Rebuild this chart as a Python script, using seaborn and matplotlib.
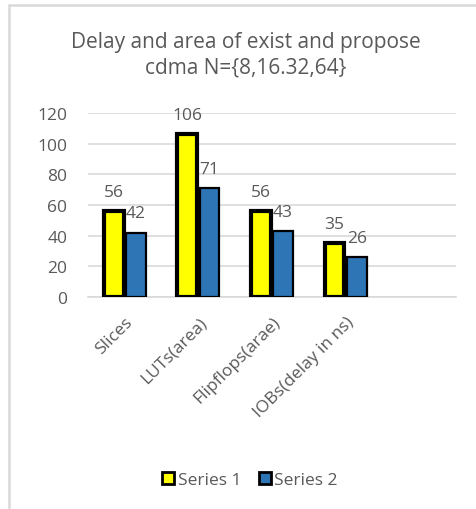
import matplotlib
matplotlib.use("Agg")
import matplotlib.pyplot as plt
import seaborn as sns
import pandas as pd
from matplotlib.patches import Patch
from matplotlib.lines import Line2D

categories = ["Slices", "LUTs(area)", "Flipflops(arae)", "IOBs(delay in ns)"]
order = categories + [""]
series1 = [56, 106, 56, 35]
series2 = [42, 71, 43, 26]
series_names = ["Series 1", "Series 2"]
yticks = [0, 20, 40, 60, 80, 100, 120]
title = "Delay and area of exist and propose\ncdma N={8,16.32,64}"

colors = {"Series 1": "#FFFF00", "Series 2": "#2E75B6"}
text_color = "#595959"
grid_color = "#D9D9D9"

df = pd.DataFrame({
    "category": categories * 2,
    "series": [series_names[0]] * len(categories) + [series_names[1]] * len(categories),
    "value": series1 + series2,
})

sns.set_theme(style="white")
plt.rcParams["font.family"] = ["Open Sans", "DejaVu Sans"]

fs = 12.5

fig = plt.figure(figsize=(4.77, 5.10), dpi=100)
ax = fig.add_axes([88 / 477, 1 - 298 / 510, (456 - 88) / 477, (298 - 114) / 510])

sns.barplot(data=df, x="category", y="value", hue="series", order=order,
            hue_order=series_names, palette=colors, saturation=1, width=0.6, gap=0.1,
            ax=ax, legend=False, zorder=3)

edge_widths = [3.0, 1.6]
for cont, lw in zip(ax.containers, edge_widths):
    for p in cont.patches:
        p.set_edgecolor("black")
        p.set_linewidth(lw)
    ax.bar_label(cont, padding=8, fontsize=fs, color=text_color)

ax.set_ylim(0, 120)
ax.set_yticks(yticks)
ax.set_yticklabels([str(v) for v in yticks])
ax.grid(axis="y", color=grid_color, linewidth=1.2, zorder=0)
ax.set_axisbelow(True)
for s in ["top", "right", "left"]:
    ax.spines[s].set_visible(False)
ax.spines["bottom"].set_color(grid_color)
ax.spines["bottom"].set_linewidth(1.2)
ax.set_xlabel("")
ax.set_ylabel("")
ax.tick_params(axis="y", length=0, pad=15, labelsize=fs, labelcolor=text_color)
ax.tick_params(axis="x", length=0, pad=12, labelsize=fs, labelcolor=text_color)
plt.setp(ax.get_xticklabels(), rotation=45, ha="right", rotation_mode="anchor")

fig.text(246 / 477, 1 - 55 / 510, title, ha="center", va="center",
         fontsize=15, color=text_color, linespacing=1.3)

handles = [Patch(facecolor=colors[n], edgecolor="black", linewidth=2) for n in series_names]
fig.legend(handles, series_names, loc="center", bbox_to_anchor=(250 / 477, 1 - 481 / 510),
           ncol=2, frameon=False, fontsize=fs, labelcolor=text_color,
           handlelength=0.7, handleheight=0.7, handletextpad=0.2, columnspacing=1.0)

# chart frame
fig.add_artist(Line2D([9 / 477, 9 / 477], [0, 1 - 6 / 510], transform=fig.transFigure,
                      color=grid_color, linewidth=1.8))
fig.add_artist(Line2D([9 / 477, 1], [1 - 6 / 510, 1 - 6 / 510], transform=fig.transFigure,
                      color=grid_color, linewidth=1.8))

fig.savefig("out.png", dpi=100, facecolor="white")
